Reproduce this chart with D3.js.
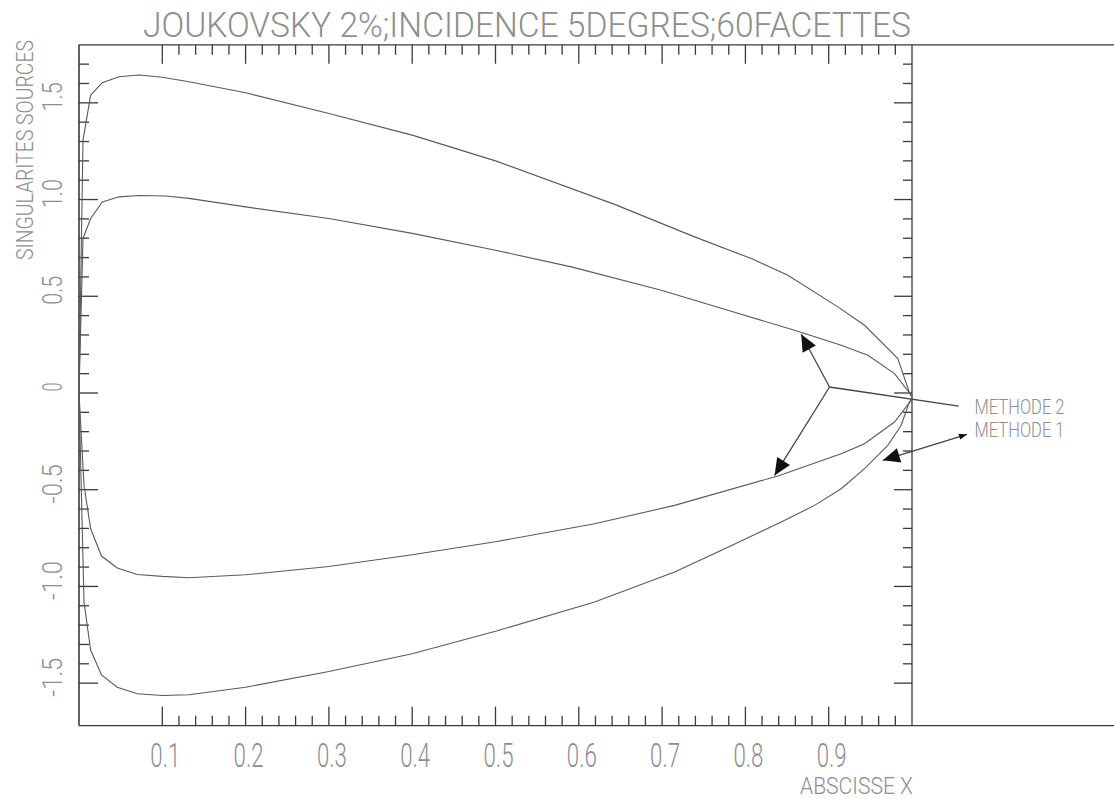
<!DOCTYPE html>
<html>
<head>
<meta charset="utf-8">
<script src="https://cdn.jsdelivr.net/npm/d3@7/dist/d3.min.js"></script>
<style>
  body { margin: 0; background: #fff; }
  svg { display: block; }
</style>
</head>
<body>
<script>
// sources: [x, sigma], leading edge -> trailing edge
const upper1 = [[0,0],[0.0048,1.307],[0.014,1.54],[0.028,1.604],[0.048,1.635],[0.072,1.644],[0.1,1.632],[0.132,1.609],[0.2,1.552],[0.3,1.445],[0.4,1.333],[0.5,1.2],[0.643,0.975],[0.739,0.807],[0.807,0.695],[0.851,0.609],[0.911,0.445],[0.943,0.35],[0.983,0.178],[0.997,0.0],[1.0,-0.02]];
const lower1 = [[0,0],[0.006,-1.08],[0.014,-1.33],[0.027,-1.457],[0.046,-1.521],[0.07,-1.555],[0.1,-1.564],[0.132,-1.56],[0.2,-1.521],[0.3,-1.44],[0.4,-1.348],[0.5,-1.232],[0.619,-1.081],[0.715,-0.926],[0.779,-0.797],[0.843,-0.667],[0.883,-0.581],[0.915,-0.495],[0.943,-0.391],[0.971,-0.271],[0.987,-0.167],[0.997,-0.045],[1.0,-0.03]];
const upper2 = [[0,0],[0.0048,0.799],[0.014,0.902],[0.028,0.988],[0.048,1.014],[0.072,1.021],[0.104,1.018],[0.132,1.006],[0.2,0.962],[0.3,0.902],[0.4,0.825],[0.5,0.738],[0.591,0.652],[0.699,0.531],[0.779,0.428],[0.859,0.324],[0.915,0.247],[0.947,0.195],[0.979,0.1],[0.997,0.0],[1.0,-0.02]];
const lower2 = [[0,0],[0.006,-0.477],[0.014,-0.702],[0.027,-0.843],[0.046,-0.905],[0.07,-0.938],[0.1,-0.948],[0.132,-0.955],[0.2,-0.94],[0.3,-0.897],[0.4,-0.836],[0.5,-0.769],[0.619,-0.676],[0.715,-0.581],[0.839,-0.429],[0.915,-0.314],[0.943,-0.262],[0.979,-0.15],[0.999,-0.038],[1.0,-0.03]];

// annotation arrows (data coords)
const hub = [0.901, 0.031];
const arrows = [
  {from: hub, to: [0.867, 0.304], head: true},
  {from: hub, to: [0.835, -0.426], head: true},
  {from: hub, to: [1.056, -0.068], head: false},
  {from: [1.066, -0.214], to: [0.965, -0.348], head: true, tail: true}
];
const legend = [
  {name: "METHODE 2", at: [1.075, -0.11]},
  {name: "METHODE 1", at: [1.075, -0.228]}
];

const xMinor = d3.range(5, 50).map(i => i / 50);   // 0.10 .. 0.98
const xMajor = [0.1, 0.2, 0.3, 0.4, 0.5, 0.6, 0.7, 0.8, 0.9];
const yMinor = d3.range(-15, 18).map(i => i / 10); // -1.5 .. 1.7
const yMajor = [-1.5, -1.0, -0.5, 0, 0.5, 1.0, 1.5];
const xLabels = ["0.1","0.2","0.3","0.4","0.5","0.6","0.7","0.8","0.9"];
const yLabels = ["-1.5","-1.0","-0.5","0","0.5","1.0","1.5"];

const title = "JOUKOVSKY 2%;INCIDENCE 5DEGRES;60FACETTES";
const xTitle = "ABSCISSE X";
const yTitle = "SINGULARITES SOURCES";

const W = 1114, H = 799;
const x = d3.scaleLinear().domain([0, 1]).range([79, 912]);
const y = d3.scaleLinear().domain([-1.72, 1.8]).range([725.7, 44.8]);

const svg = d3.select("body").append("svg")
  .attr("width", W)
  .attr("height", H)
  .style("background", "#fff");

const ink = "#3a3a3a";
const txt = "#8e8e8e";
const font = "Roboto, 'DejaVu Sans', sans-serif";

// frame: top and bottom run on to the right edge of the sheet
svg.append("line").attr("x1", x(0)).attr("x2", W).attr("y1", y(1.8)).attr("y2", y(1.8))
  .attr("stroke", ink).attr("stroke-width", 1.3);
svg.append("line").attr("x1", x(0)).attr("x2", W).attr("y1", y(-1.72)).attr("y2", y(-1.72))
  .attr("stroke", ink).attr("stroke-width", 1.3);
svg.append("line").attr("x1", x(0)).attr("x2", x(0)).attr("y1", y(1.8)).attr("y2", y(-1.72))
  .attr("stroke", ink).attr("stroke-width", 1.6);
svg.append("line").attr("x1", x(1)).attr("x2", x(1)).attr("y1", y(1.8)).attr("y2", y(-1.72))
  .attr("stroke", ink).attr("stroke-width", 1.3);

const isMaj = (v, arr) => arr.some(m => Math.abs(m - v) < 1e-6);

// x ticks, bottom (up) and top (down)
svg.selectAll(".xtb").data(xMinor).enter().append("line")
  .attr("x1", d => x(d)).attr("x2", d => x(d))
  .attr("y1", y(-1.72)).attr("y2", d => y(-1.72) - (isMaj(d, xMajor) ? 19 : 10))
  .attr("stroke", ink).attr("stroke-width", 1.3);
svg.selectAll(".xtt").data(xMinor).enter().append("line")
  .attr("x1", d => x(d)).attr("x2", d => x(d))
  .attr("y1", y(1.8)).attr("y2", d => y(1.8) + (isMaj(d, xMajor) ? 19 : 10))
  .attr("stroke", ink).attr("stroke-width", 1.3);

// y ticks, left (right) and right (left)
svg.selectAll(".ytl").data(yMinor).enter().append("line")
  .attr("y1", d => y(d)).attr("y2", d => y(d))
  .attr("x1", x(0)).attr("x2", d => x(0) + (isMaj(d, yMajor) ? 19 : 10))
  .attr("stroke", ink).attr("stroke-width", 1.3);
svg.selectAll(".ytr").data(yMinor).enter().append("line")
  .attr("y1", d => y(d)).attr("y2", d => y(d))
  .attr("x1", x(1)).attr("x2", d => x(1) - (isMaj(d, yMajor) ? 18 : 9))
  .attr("stroke", ink).attr("stroke-width", 1.3);

// curves
const line = d3.line().x(d => x(d[0])).y(d => y(d[1]));
const contour1 = lower1.slice().reverse().concat(upper1);
const contour2 = lower2.slice().reverse().concat(upper2);
[contour1, contour2].forEach(c => {
  svg.append("path").datum(c)
    .attr("d", line)
    .attr("fill", "none")
    .attr("stroke", "#5a5a5a")
    .attr("stroke-width", 1.1);
});

// arrows
function head(p, q, len, half) {
  // p: tip, q: point the arrow comes from
  const dx = p[0] - q[0], dy = p[1] - q[1];
  const l = Math.hypot(dx, dy), ux = dx / l, uy = dy / l;
  const bx = p[0] - ux * len, by = p[1] - uy * len;
  return [[p[0], p[1]], [bx - uy * half, by + ux * half], [bx + uy * half, by - ux * half]];
}
arrows.forEach(a => {
  const p0 = [x(a.from[0]), y(a.from[1])];
  const p1 = [x(a.to[0]), y(a.to[1])];
  svg.append("line").attr("x1", p0[0]).attr("y1", p0[1]).attr("x2", p1[0]).attr("y2", p1[1])
    .attr("stroke", "#444").attr("stroke-width", 1.3);
  if (a.head) {
    svg.append("polygon").attr("points", head(p1, p0, 17, 7.5).join(" ")).attr("fill", "#111");
  }
  if (a.tail) {
    svg.append("polygon").attr("points", head(p0, p1, 8, 3).join(" ")).attr("fill", "#111");
  }
});

// text helper: cap height h, fitted width w
function label(str, px, py, h, w, rot, anchor) {
  return svg.append("text")
    .attr("transform", `translate(${px},${py}) rotate(${rot || 0})`)
    .attr("text-anchor", anchor || "start")
    .attr("font-family", font)
    .attr("font-weight", 300)
    .attr("font-size", h / 0.711)
    .attr("fill", txt)
    .attr("textLength", w)
    .attr("lengthAdjust", "spacingAndGlyphs")
    .text(str);
}

label(title, 143, 37, 25, 768);
xMajor.forEach((v, i) => label(xLabels[i], x(v) + 3, 767, 23, 30, 0, "middle"));
yMajor.forEach((v, i) => label(yLabels[i], 62, y(v) - 6, 19, yLabels[i].length * 10 - 1, -90, "middle"));
label(yTitle, 33, 150, 17, 220, -90, "middle");
label(xTitle, 800, 794, 17, 113);
legend.forEach(l => label(l.name, x(l.at[0]) + 0, y(l.at[1]), 15, 90));
</script>
</body>
</html>
